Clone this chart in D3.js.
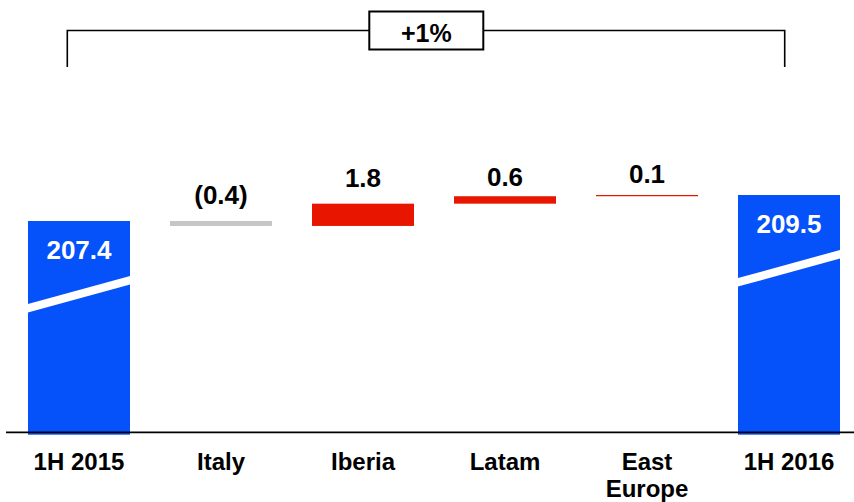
<!DOCTYPE html>
<html>
<head>
<meta charset="utf-8">
<script src="https://cdn.jsdelivr.net/npm/d3@7"></script>
<style>
  html, body { margin: 0; padding: 0; background: #fff; }
  svg { display: block; }
  text { font-family: "Liberation Sans", Arial, sans-serif; font-weight: bold; }
</style>
</head>
<body>
<svg id="chart" width="854" height="502"></svg>
<script>
// ---- data ----
const categories = ["1H 2015", "Italy", "Iberia", "Latam", "East\nEurope", "1H 2016"];
const kinds      = ["total", "delta", "delta", "delta", "delta", "total"];
const values     = [207.4, -0.4, 1.8, 0.6, 0.1, 209.5];
const valueLabels = ["207.4", "(0.4)", "1.8", "0.6", "0.1", "209.5"];
const changeLabel = "+1%";

// ---- layout ----
const W = 854, H = 502;
const svg = d3.select("#chart");
const colors = { total: "#0652FA", up: "#E81600", down: "#C6C6C6" };

const x = d3.scaleBand().domain(categories).range([8, 860])
  .paddingInner(0.2817).paddingOuter(0.1408);
const y = d3.scaleLinear().domain([190.33, 209.5]).range([432.3, 195]);
const baseVal = y.domain()[0];

// compute waterfall segments
let running = 0;
const bars = categories.map((c, i) => {
  let lo, hi, color;
  if (kinds[i] === "total") {
    lo = baseVal; hi = values[i]; running = values[i]; color = colors.total;
  } else {
    const start = running, end = running + values[i];
    lo = Math.min(start, end); hi = Math.max(start, end);
    running = end; color = values[i] >= 0 ? colors.up : colors.down;
  }
  return { c, i, lo, hi, color, kind: kinds[i], label: valueLabels[i] };
});

const bw = x.bandwidth();

// bars
svg.append("g").selectAll("rect").data(bars).join("rect")
  .attr("x", d => x(d.c))
  .attr("width", bw)
  .attr("y", d => y(d.hi))
  .attr("height", d => (d.kind === "total" ? y(d.lo) + 2.4 : y(d.lo)) - y(d.hi))
  .attr("fill", d => d.color);

// axis-break stripes on total bars
svg.append("g").selectAll("path").data(bars.filter(d => d.kind === "total")).join("path")
  .attr("d", d => {
    const x0 = x(d.c) - 1, x1 = x(d.c) + bw + 1, t = y(d.hi);
    return `M${x0},${t + 83.3}L${x1},${t + 54.7}L${x1},${t + 63.2}L${x0},${t + 91.8}Z`;
  })
  .attr("fill", "#fff");

// baseline axis
svg.append("line")
  .attr("x1", 6).attr("x2", W)
  .attr("y1", y(baseVal)).attr("y2", y(baseVal))
  .attr("stroke", "#000").attr("stroke-width", 1.8);

// value labels
const deltaOffsets = [0, 17, 16.7, 9.8, 12, 0];
svg.append("g").selectAll("text").data(bars).join("text")
  .attr("x", d => x(d.c) + bw / 2)
  .attr("y", d => d.kind === "total" ? y(d.hi) + 38.2 : y(d.hi) - deltaOffsets[d.i])
  .attr("text-anchor", "middle")
  .attr("font-size", 26)
  .attr("fill", d => d.kind === "total" ? "#fff" : "#000")
  .text(d => d.label);

// category labels
const catG = svg.append("g");
categories.forEach(c => {
  const t = catG.append("text")
    .attr("x", x(c) + bw / 2)
    .attr("y", 470)
    .attr("text-anchor", "middle")
    .attr("font-size", 24)
    .attr("fill", "#000");
  c.split("\n").forEach((line, k) => {
    t.append("tspan").attr("x", x(c) + bw / 2).attr("dy", k === 0 ? 0 : 27).text(line);
  });
});

// bracket with change box
const first = categories[0], last = categories[categories.length - 1];
const bxL = x(first) + bw / 2 - 11.7, bxR = x(last) + bw / 2 - 4.3;
const bracketY = 30.5, bracketBottom = 67;
svg.append("path")
  .attr("d", `M${bxL},${bracketBottom}V${bracketY}H${bxR}V${bracketBottom}`)
  .attr("fill", "none").attr("stroke", "#000").attr("stroke-width", 1.6);
const boxCx = 426.3, boxW = 114, boxH = 38;
svg.append("rect")
  .attr("x", boxCx - boxW / 2).attr("y", bracketY - boxH / 2)
  .attr("width", boxW).attr("height", boxH)
  .attr("fill", "#fff").attr("stroke", "#000").attr("stroke-width", 2);
svg.append("text")
  .attr("x", boxCx).attr("y", 41.7)
  .attr("text-anchor", "middle")
  .attr("font-size", 25)
  .attr("fill", "#000")
  .text(changeLabel);
</script>
</body>
</html>
